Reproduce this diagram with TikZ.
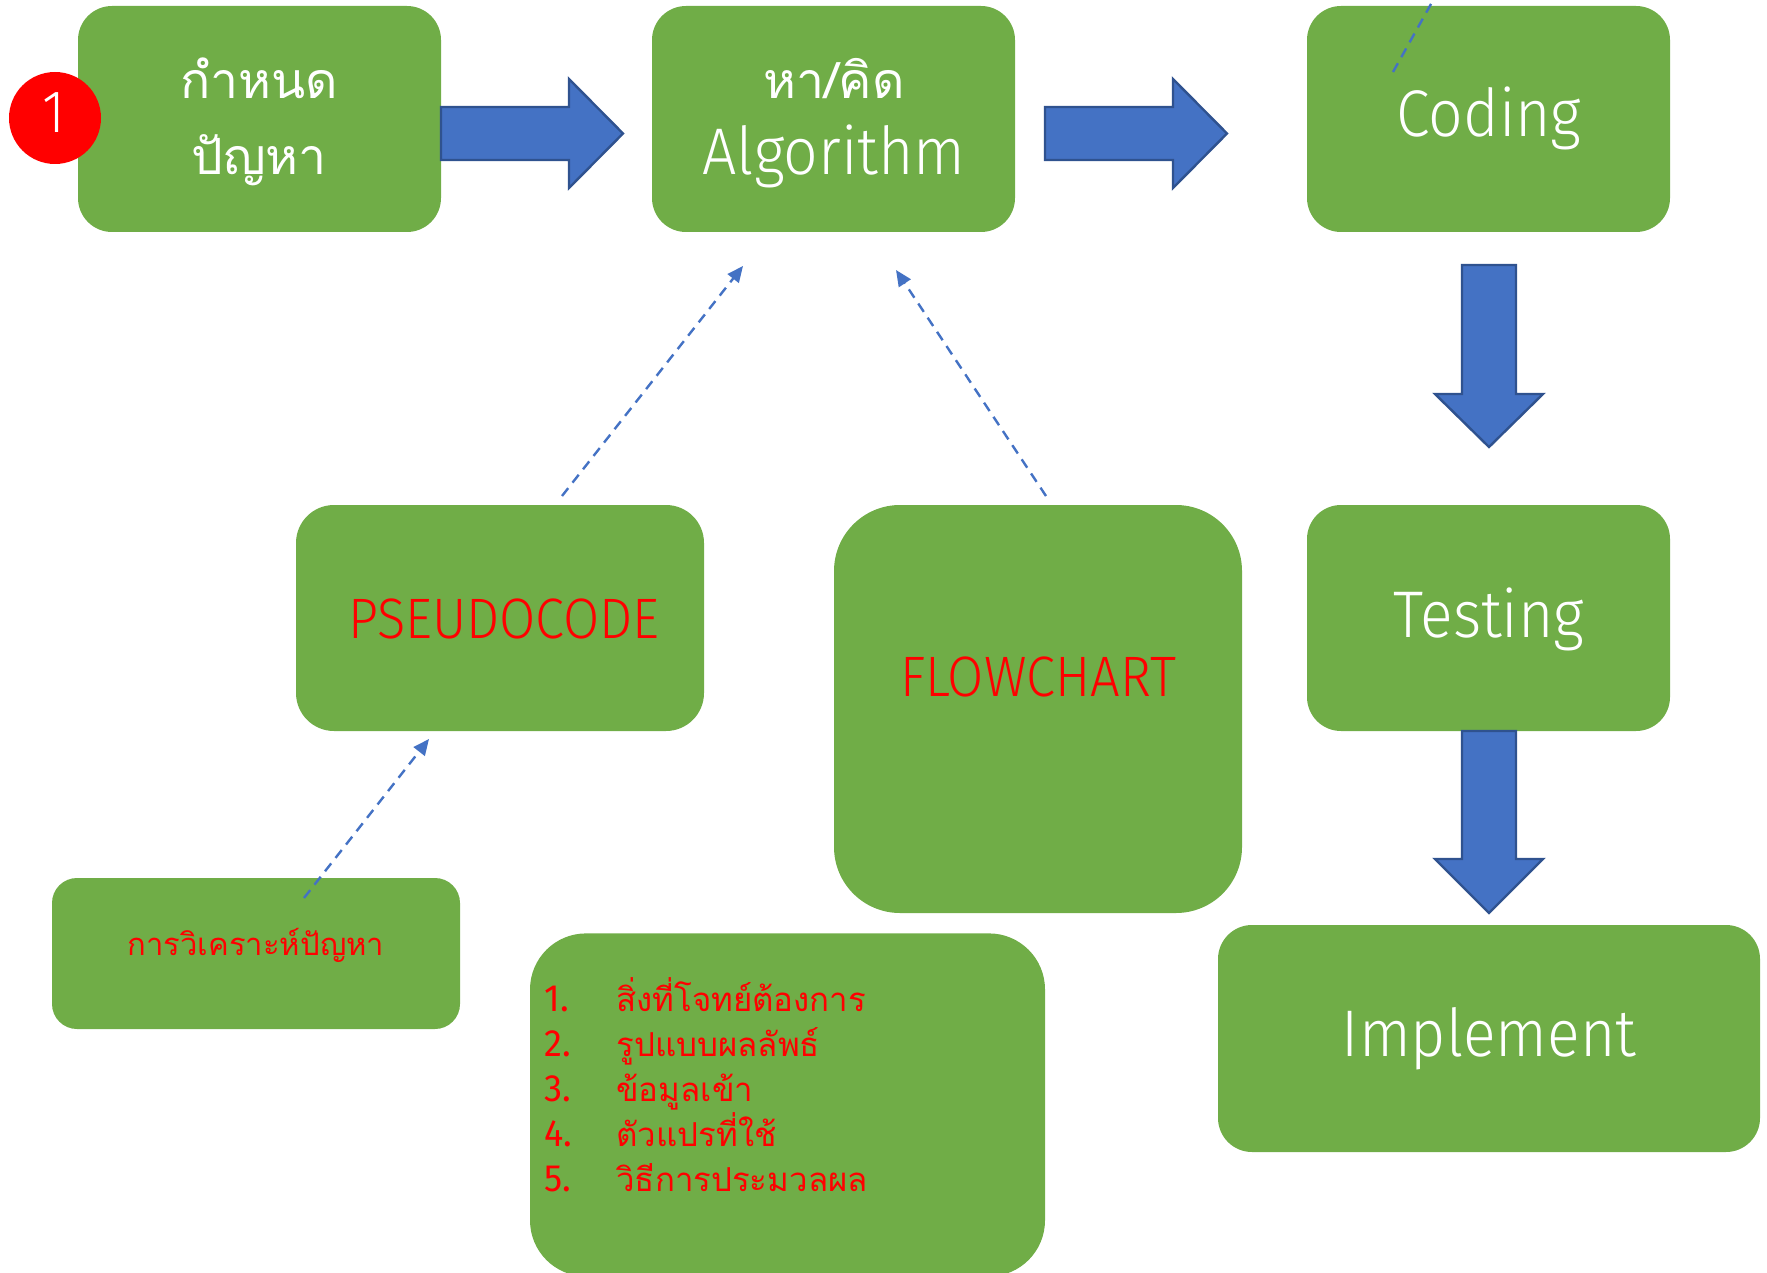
\documentclass[tikz,border=0pt]{standalone}
\usepackage{fontspec}
\setmainfont{Fira Sans Light}
\newfontfamily\lat[FakeStretch=0.92]{Fira Sans Light}
\newfontfamily\latreg[FakeStretch=0.95]{Fira Sans}
\newfontfamily\thai[Script=Thai]{Loma}
\usetikzlibrary{arrows.meta}
\definecolor{boxgreen}{HTML}{70AD47}
\definecolor{arrowblue}{HTML}{4472C4}
\definecolor{arrowedge}{HTML}{2F528F}
\definecolor{txtred}{HTML}{FF0000}
\tikzset{
  box/.style={fill=boxgreen, draw=none, rectangle, inner sep=0pt},
  whitetxt/.style={text=white, inner sep=0pt, anchor=base},
  redtxt/.style={text=txtred, inner sep=0pt, anchor=base},
  bigthai/.style={font=\thai\fontsize{25}{27}\selectfont},
  biglat/.style={font=\lat\fontsize{33}{35}\selectfont},
  blockarrow/.style={fill=arrowblue, draw=arrowedge, line width=1.2pt, line join=miter},
  hint/.style={draw=arrowblue, dashed, dash pattern=on 5pt off 3.5pt, line width=1.2pt,
    -{Triangle[length=8pt,width=7pt]}},
}
\begin{document}
\begin{tikzpicture}[x=0.5pt,y=-0.5pt]
\clip (0,0) rectangle (1767,1273);
\useasboundingbox (0,0) rectangle (1767,1273);

% main process boxes
\node[box, minimum width=181.5pt, minimum height=113pt, rounded corners=17pt] (define) at (259.5,119) {};
\node[box, minimum width=181.5pt, minimum height=113pt, rounded corners=17pt] (algo) at (833.5,119) {};
\node[box, minimum width=181.5pt, minimum height=113pt, rounded corners=17pt] (coding) at (1488.5,119) {};
\node[box, minimum width=181.5pt, minimum height=113pt, rounded corners=17pt] (testing) at (1488.5,618) {};
\node[box, minimum width=271pt, minimum height=113.5pt, rounded corners=17pt] (implement) at (1489,1038.5) {};

% supporting boxes
\node[box, minimum width=204pt, minimum height=113pt, rounded corners=19pt] (pseudo) at (500,618) {};
\node[box, minimum width=204pt, minimum height=204pt, rounded corners=33pt] (flow) at (1038,709) {};
\node[box, minimum width=204pt, minimum height=75.5pt, rounded corners=12.5pt] (analysis) at (256,953.5) {};
\node[box, minimum width=257.5pt, minimum height=171.5pt, rounded corners=28pt, anchor=north] (steps) at (787.5,933) {};

% step badge
\node[circle, fill=txtred, minimum size=46pt, inner sep=0pt] (badge) at (55,118) {};
\node[whitetxt, font=\lat\fontsize{30}{32}\selectfont] (badgeT) at (54,133) {1};

% box labels
\node[whitetxt, bigthai] (defineA) at (259,99) {กำหนด};
\node[whitetxt, bigthai] (defineB) at (259,175) {ปัญหา};
\node[whitetxt, bigthai] (algoA) at (834,99) {หา/คิด};
\node[whitetxt, biglat] (algoB) at (834,175) {Algorithm};
\node[whitetxt, biglat] (codingT) at (1489,137) {Coding};
\node[whitetxt, biglat] (testingT) at (1489,637) {Testing};
\node[whitetxt, biglat] (implementT) at (1489,1056) {Implement};
\node[redtxt, font=\lat\fontsize{28.5}{30}\selectfont] (pseudoT) at (504,638) {PSEUDOCODE};
\node[redtxt, font=\lat\fontsize{28.5}{30}\selectfont] (flowT) at (1038,696) {FLOWCHART};
\node[redtxt, font=\thai\fontsize{15.5}{17}\selectfont] (analysisT) at (256,955) {การวิเคราะห์ปัญหา};

% numbered list
\foreach \n/\t/\yy in {1/สิ่งที่โจทย์ต้องการ/1011, 2/รูปแบบผลลัพธ์/1056, 3/ข้อมูลเข้า/1101, 4/ตัวแปรที่ใช้/1146, 5/วิธีการประมวลผล/1191}{
  \node[redtxt, anchor=base west, font=\latreg\fontsize{19}{21}\selectfont] (num\n) at (544,\yy) {\n.};
  \node[redtxt, anchor=base west, font=\thai\fontsize{16.5}{18}\selectfont] (item\n) at (616,\yy) {\t};
}

% block arrows between the process steps
\draw[blockarrow] (441,107) -- (569,107) -- (569,79) -- (623,133.5) -- (569,188) -- (569,160) -- (441,160) -- cycle;
\draw[blockarrow] (1045,107) -- (1173,107) -- (1173,79) -- (1227,133.5) -- (1173,188) -- (1173,160) -- (1045,160) -- cycle;
\draw[blockarrow] (1462,265) -- (1516,265) -- (1516,394) -- (1543,394) -- (1489,447) -- (1435,394) -- (1462,394) -- cycle;
\draw[blockarrow] (1462,731) -- (1516,731) -- (1516,859) -- (1543,859) -- (1489,913) -- (1435,859) -- (1462,859) -- cycle;

% dashed hints
\coordinate (pseudoTop) at (562,496);
\coordinate (algoBelowL) at (743,266);
\coordinate (flowTop) at (1046,496);
\coordinate (algoBelowR) at (896,270);
\coordinate (analysisIn) at (304,898);
\coordinate (pseudoBelow) at (429,739);
\coordinate (codingIn) at (1393,72);
\coordinate (codingOut) at (1450,-30);
\draw[hint] (pseudoTop) -- (algoBelowL);
\draw[hint] (flowTop) -- (algoBelowR);
\draw[hint] (analysisIn) -- (pseudoBelow);
\draw[hint, -] (codingIn) -- (codingOut);
\end{tikzpicture}
\end{document}
